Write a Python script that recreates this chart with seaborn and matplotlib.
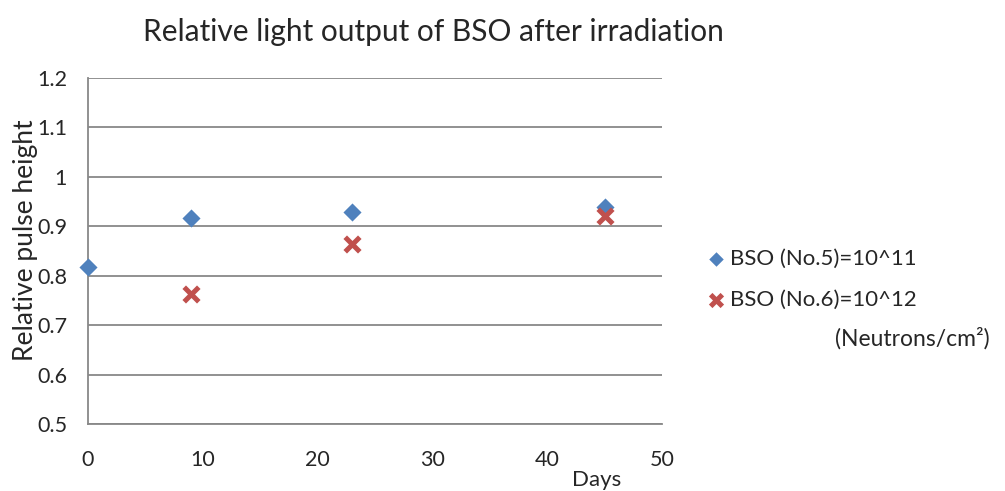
import matplotlib
matplotlib.use("Agg")
import matplotlib.pyplot as plt
import seaborn as sns
import pandas as pd

days_no5 = [0, 9, 23, 45]
height_no5 = [0.817, 0.917, 0.928, 0.939]
days_no6 = [9, 23, 45]
height_no6 = [0.763, 0.864, 0.920]
series_names = ["BSO (No.5)=10^11", "BSO (No.6)=10^12"]
colors = ["#4F81BD", "#C0504D"]
x_ticks = [0, 10, 20, 30, 40, 50]
y_ticks = [0.5, 0.6, 0.7, 0.8, 0.9, 1.0, 1.1, 1.2]
y_tick_labels = ["0.5", "0.6", "0.7", "0.8", "0.9", "1", "1.1", "1.2"]

df5 = pd.DataFrame({"Days": days_no5, "Height": height_no5})
df6 = pd.DataFrame({"Days": days_no6, "Height": height_no6})

sns.set_theme(style="white")
plt.rcParams["font.family"] = ["Lato", "DejaVu Sans"]

fig = plt.figure(figsize=(10.05, 4.91), dpi=100)
ax = fig.add_axes([88 / 1005, 67 / 491, (662 - 88) / 1005, (424 - 78) / 491])

sns.scatterplot(data=df5, x="Days", y="Height", color=colors[0], marker="D",
                s=85, linewidth=0, ax=ax, zorder=3, clip_on=False, label=series_names[0])
sns.scatterplot(data=df6, x="Days", y="Height", color=colors[1], marker="x",
                s=110, linewidth=3.6, ax=ax, zorder=4, clip_on=False, label=series_names[1])

ax.set_xlim(0, 50)
ax.set_ylim(0.5, 1.2)
ax.set_xticks(x_ticks)
ax.set_xticklabels([str(t) for t in x_ticks], fontsize=15.5)
ax.set_yticks(y_ticks)
ax.set_yticklabels(y_tick_labels, fontsize=15.5)
ax.yaxis.grid(True, color="#888888", linewidth=1.3)
ax.xaxis.grid(False)
for s in ["top", "right"]:
    ax.spines[s].set_visible(False)
for s in ["left", "bottom"]:
    ax.spines[s].set_color("#888888")
    ax.spines[s].set_linewidth(1.3)
ax.tick_params(axis="x", direction="out", length=5, color="#888888", width=1.3, pad=14)
ax.tick_params(axis="y", direction="out", length=6, color="#888888", width=1.3, pad=9)
ax.set_xlabel("")
ax.set_ylabel("")

fig.text(433 / 1005, 1 - 32 / 491, "Relative light output of BSO after irradiation",
         ha="center", va="center", fontsize=21.5)
fig.text(25 / 1005, 1 - 240 / 491, "Relative pulse height", rotation=90,
         ha="center", va="center", fontsize=19)
fig.text(597 / 1005, 1 - 480 / 491, "Days", ha="center", va="center", fontsize=16)

leg = ax.legend(loc="upper left", bbox_to_anchor=(694 / 1005, 1 - 240 / 491),
                bbox_transform=fig.transFigure, frameon=False, fontsize=16,
                handletextpad=0.0, labelspacing=0.95, handlelength=1.2, borderaxespad=0,
                markerscale=0.8)
fig.text(835 / 1005, 1 - 338 / 491, "(Neutrons/cm\u00b2)", ha="left", va="center", fontsize=16.5)

fig.savefig("out.png", dpi=100)
